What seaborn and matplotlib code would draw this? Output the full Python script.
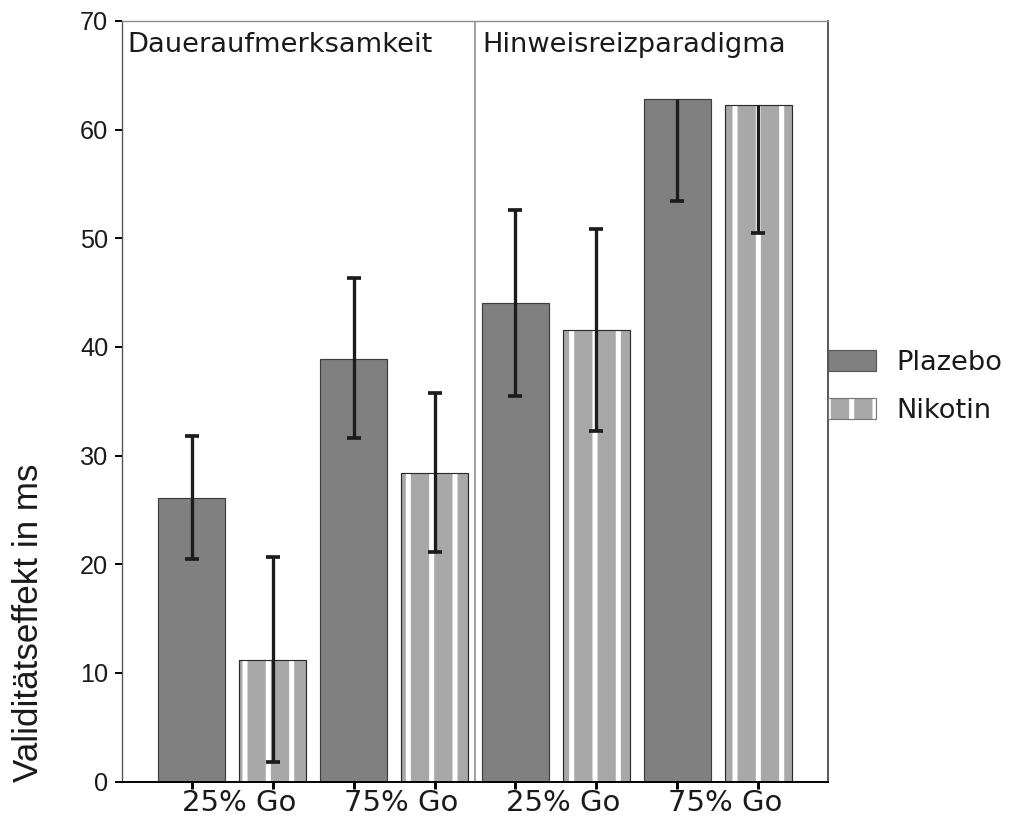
import numpy as np
import pandas as pd
import matplotlib
matplotlib.use('Agg')
import matplotlib.pyplot as plt
import matplotlib.transforms as mtransforms
from matplotlib.patches import Patch, Rectangle
from matplotlib.legend_handler import HandlerTuple
import seaborn as sns

# ---------------- data ----------------
aufgaben = ['Daueraufmerksamkeit', 'Hinweisreizparadigma']
bedingungen = ['25% Go', '75% Go']
gruppen = ['Plazebo', 'Nikotin']

plazebo = [26.1, 38.9, 44.05, 62.85]
nikotin = [11.2, 28.4, 41.6, 62.3]
plazebo_unten = [20.5, 31.6, 35.5, 53.4]
plazebo_oben = [31.8, 46.3, 52.6, 62.85]
nikotin_unten = [1.8, 21.1, 32.3, 50.5]
nikotin_oben = [20.65, 35.8, 50.9, 62.3]

y_ticks = [0, 10, 20, 30, 40, 50, 60, 70]
y_label = 'Validitätseffekt in ms'

# ---------------- style ----------------
sns.set_theme(style='white')
plt.rcParams['font.family'] = ['DejaVu Sans']
plt.rcParams['hatch.linewidth'] = 2.6
plt.rcParams['hatch.color'] = 'white'
TXT = '#1a1a1a'

zellen = [f'{a}|{b}' for a in aufgaben for b in bedingungen]
rows = []
for g, vals in zip(gruppen, [plazebo, nikotin]):
    for z, v in zip(zellen, vals):
        rows.append({'Zelle': z, 'Gruppe': g, 'Wert': v})
df = pd.DataFrame(rows)

DPI = 140
fig = plt.figure(figsize=(1012 / DPI, 819 / DPI), dpi=DPI)
ax = fig.add_axes([122 / 1012, 1 - 781.5 / 819, 706 / 1012, 760.5 / 819])

farben = {'Plazebo': '#808080', 'Nikotin': '#a8a8a8'}
sns.barplot(data=df, x='Zelle', y='Wert', hue='Gruppe', order=zellen,
            hue_order=gruppen, palette=farben, width=1.0, gap=0.17,
            errorbar=None, legend=False, saturation=1, ax=ax)

cont_p, cont_n = ax.containers[0], ax.containers[1]
for p in cont_p:
    p.set_edgecolor('#3c3c3c')
    p.set_linewidth(0.6)
for p in cont_n:
    p.set_hatch('|')
    p.set_edgecolor('white')
    p.set_linewidth(0)
    ax.add_patch(Rectangle((p.get_x(), p.get_y()), p.get_width(), p.get_height(),
                           fill=False, edgecolor='#2a2a2a', linewidth=0.6,
                           zorder=p.get_zorder() + 0.1))

# error bars
alle_x = []
for cont, unten, oben, werte in [(cont_p, plazebo_unten, plazebo_oben, plazebo),
                                 (cont_n, nikotin_unten, nikotin_oben, nikotin)]:
    xs = np.array([p.get_x() + p.get_width() / 2 for p in cont])
    alle_x.extend(xs)
    ax.vlines(xs, unten, oben, color='#1c1c1c', lw=1.7, zorder=5)
    ax.plot(xs, unten, ls='none', marker='_', ms=7.3, mew=1.9, color='#1c1c1c', zorder=5)
    oben_caps = np.where(np.array(oben) > np.array(werte), oben, np.nan)
    ax.plot(xs, oben_caps, ls='none', marker='_', ms=7.3, mew=1.9, color='#1c1c1c', zorder=5)

ax.set_xlim(-0.68, 3.68)
ax.set_ylim(0, 70)
ax.axvline(1.5, color='#a0a0a0', lw=1.0, zorder=1)

# spines
ax.spines['left'].set_color('#555555')
ax.spines['left'].set_linewidth(0.7)
ax.spines['bottom'].set_color('black')
ax.spines['bottom'].set_linewidth(1.0)
ax.spines['top'].set_color('#8a8a8a')
ax.spines['top'].set_linewidth(0.7)
ax.spines['right'].set_color('#444444')
ax.spines['right'].set_linewidth(0.9)

# x ticks
ax.set_xticks(sorted(alle_x))
ax.set_xticklabels([])
ax.tick_params(axis='x', which='major', bottom=True, direction='out',
               length=3.6, width=1.5, color='black')
ax.set_xticks(np.arange(len(zellen)), minor=True)
ax.set_xticklabels(bedingungen * len(aufgaben), minor=True)
ax.tick_params(axis='x', which='minor', bottom=True, length=0, pad=4,
               labelsize=15, labelcolor=TXT)
off = mtransforms.ScaledTranslation(7 / DPI, 0, fig.dpi_scale_trans)
for lbl in ax.get_xticklabels(minor=True):
    lbl.set_transform(lbl.get_transform() + off)
ax.set_xlabel('')

# y ticks
ax.set_yticks(y_ticks)
ax.set_yticklabels([str(t) for t in y_ticks], fontfamily='Liberation Sans')
ax.tick_params(axis='y', left=True, direction='out', length=3.6, width=1.0,
               color='black', pad=3.5, labelsize=13, labelcolor=TXT)
ax.set_ylabel(y_label, fontsize=18, fontfamily='Liberation Sans', loc='bottom',
              labelpad=18, color=TXT)

# panel titles
ax.annotate(aufgaben[0], xy=(0, 1), xycoords='axes fraction', xytext=(3, -5.5),
            textcoords='offset points', ha='left', va='top', fontsize=14, color=TXT)
ax.annotate(aufgaben[1], xy=(1.5, 70), xycoords='data', xytext=(4, -5.5),
            textcoords='offset points', ha='left', va='top', fontsize=14, color=TXT)

# legend
h_plazebo = Patch(facecolor=farben['Plazebo'], edgecolor='#555555', linewidth=0.6)
h_nik_fill = Patch(facecolor=farben['Nikotin'], edgecolor='white', hatch='|', linewidth=0)
h_nik_edge = Patch(fill=False, edgecolor='#777777', linewidth=0.6)
ax.legend([h_plazebo, (h_nik_fill, h_nik_edge)], gruppen,
          handler_map={tuple: HandlerTuple(ndivide=1, pad=0)},
          loc='center left', bbox_to_anchor=(1.0, 0.519),
          frameon=False, fontsize=14, handlelength=1.75, handleheight=0.85,
          handletextpad=0.75, labelspacing=0.79, borderpad=0, borderaxespad=0,
          labelcolor=TXT)

fig.savefig('out.png', dpi=DPI)
